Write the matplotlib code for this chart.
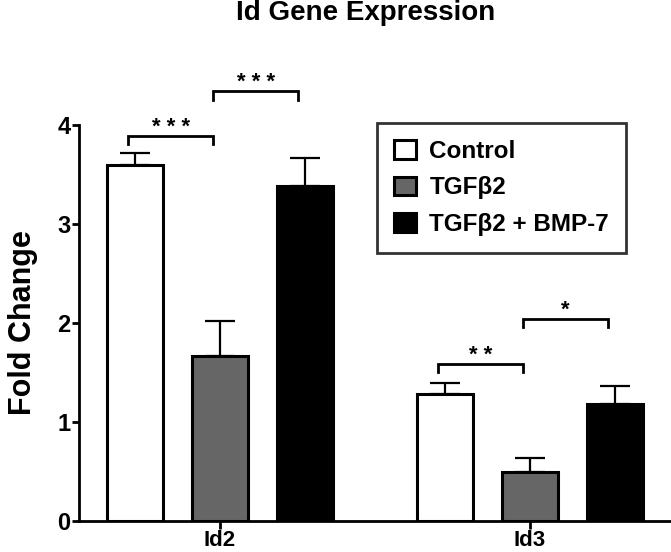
import numpy as np
import matplotlib.pyplot as plt

plt.rcParams['font.family'] = ['Liberation Sans', 'DejaVu Sans']
plt.rcParams['font.weight'] = 'bold'

genes = ['Id2', 'Id3']
groups = ['Control', 'TGFβ2', 'TGFβ2 + BMP-7']
colors = ['white', '#666666', 'black']

# mean fold change and upper SEM, per group, per gene
means = {
    'Control': [3.60, 1.28],
    'TGFβ2': [1.67, 0.49],
    'TGFβ2 + BMP-7': [3.38, 1.18],
}
errs = {
    'Control': [0.12, 0.11],
    'TGFβ2': [0.35, 0.15],
    'TGFβ2 + BMP-7': [0.29, 0.18],
}

# significance brackets: gene index, left group, right group, level, stars
sig_gene = [0, 0, 1, 1]
sig_left = [0, 1, 0, 1]
sig_right = [1, 2, 1, 2]
sig_level = [3.89, 4.34, 1.59, 2.04]
sig_stars = ['* * *', '* * *', '* *', '*']

fig = plt.figure(figsize=(6.71, 5.52), dpi=100)
ax = fig.add_axes([79 / 671, 31 / 552, 592 / 671, 396 / 552])

gene_x = np.array([0.0, 3.647])
width = 0.67

for i, g in enumerate(groups):
    xs = gene_x + (i - 1)
    ax.bar(xs, means[g], width=width, color=colors[i], edgecolor='black',
           linewidth=2.2, label=g, zorder=3)
    ax.errorbar(xs, means[g], yerr=[np.zeros(2), errs[g]], fmt='none',
                ecolor='black', elinewidth=1.6, capsize=10.5, capthick=1.6, zorder=2)

drop = 0.085
for gi, l, r, lev, st in zip(sig_gene, sig_left, sig_right, sig_level, sig_stars):
    x1 = gene_x[gi] + (l - 1) - 0.08
    x2 = gene_x[gi] + (r - 1) - 0.08
    ax.plot([x1, x1, x2, x2], [lev - drop, lev, lev, lev - drop], color='black',
            lw=2.0, clip_on=False, solid_joinstyle='miter')
    ax.text((x1 + x2) / 2, lev + 0.03, st, ha='center', va='baseline',
            fontsize=16, fontweight='bold', clip_on=False)

ax.set_xlim(-1.659, 5.306)
ax.set_ylim(0, 4)
ax.set_yticks([0, 1, 2, 3, 4])
ax.set_xticks(gene_x)
ax.set_xticklabels(genes)
ax.tick_params(axis='y', labelsize=17, width=2, length=5, pad=1)
ax.tick_params(axis='x', labelsize=16, width=2, length=6, pad=0.5)
for lab in ax.get_xticklabels() + ax.get_yticklabels():
    lab.set_fontweight('bold')

ax.spines['top'].set_visible(False)
ax.spines['right'].set_visible(False)
ax.spines['left'].set_linewidth(2)
ax.spines['bottom'].set_linewidth(2)

ax.set_ylabel('Fold Change', fontsize=22, fontweight='bold', labelpad=14)

fig.text(236 / 671, 1 - 13 / 552, 'Id Gene Expression', ha='left', va='center',
         fontsize=20, fontweight='bold')

leg = ax.legend(loc='upper left', bbox_to_anchor=(377 / 671, 1 - 123 / 552),
                bbox_transform=fig.transFigure, fontsize=17.5, frameon=True,
                fancybox=False, borderpad=0.7, labelspacing=0.55,
                handlelength=0.9, handleheight=0.8, handletextpad=0.55,
                borderaxespad=0)
leg.get_frame().set_edgecolor('black')
leg.get_frame().set_linewidth(2)
for t in leg.get_texts():
    t.set_fontweight('bold')

fig.savefig('out.png', dpi=100)
